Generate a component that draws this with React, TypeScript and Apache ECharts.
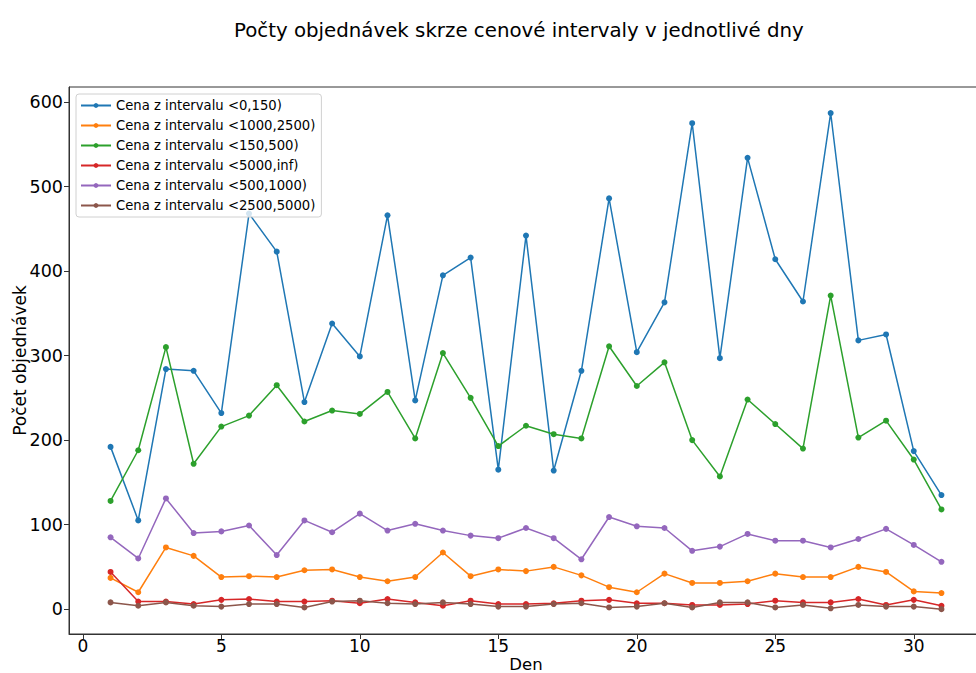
import React, { useEffect, useRef } from "react";
import * as echarts from "echarts";

const days = Array.from({ length: 31 }, (_, i) => i + 1);
const seriesNames = [
  "Cena z intervalu <0,150)",
  "Cena z intervalu <1000,2500)",
  "Cena z intervalu <150,500)",
  "Cena z intervalu <5000,inf)",
  "Cena z intervalu <500,1000)",
  "Cena z intervalu <2500,5000)",
];
const s0_150 = [192, 105, 284, 282, 232, 468, 423, 245, 338, 299, 466, 247, 395, 416, 165, 442, 164, 282, 486, 304, 363, 575, 297, 534, 414, 364, 587, 318, 325, 187, 135];
const s1000_2500 = [37, 20, 73, 63, 38, 39, 38, 46, 47, 38, 33, 38, 67, 39, 47, 45, 50, 40, 26, 20, 42, 31, 31, 33, 42, 38, 38, 50, 44, 21, 19];
const s150_500 = [128, 188, 310, 172, 216, 229, 265, 222, 235, 231, 257, 202, 303, 250, 193, 217, 207, 202, 311, 264, 292, 200, 157, 248, 219, 190, 371, 203, 223, 177, 118];
const s5000_inf = [44, 9, 9, 6, 11, 12, 9, 9, 10, 7, 12, 8, 4, 10, 6, 6, 7, 10, 11, 7, 7, 5, 5, 6, 10, 8, 8, 12, 5, 11, 4];
const s500_1000 = [85, 60, 131, 90, 92, 99, 64, 105, 91, 113, 93, 101, 93, 87, 84, 96, 84, 59, 109, 98, 96, 69, 74, 89, 81, 81, 73, 83, 95, 76, 56];
const s2500_5000 = [8, 4, 8, 4, 3, 6, 6, 2, 9, 10, 7, 6, 8, 6, 3, 3, 6, 7, 2, 3, 7, 2, 8, 8, 2, 5, 1, 5, 3, 3, 0];
const allValues = [s0_150, s1000_2500, s150_500, s5000_inf, s500_1000, s2500_5000];
const colors = ["#1f77b4", "#ff7f0e", "#2ca02c", "#d62728", "#9467bd", "#8c564b"];
const xTicks = [0, 5, 10, 15, 20, 25, 30];
const yTicks = [0, 100, 200, 300, 400, 500, 600];

const FONT = "DejaVu Sans";

export default function App() {
  const ref = useRef<HTMLDivElement>(null);
  useEffect(() => {
    document.body.style.margin = "0";
    const chart = echarts.init(ref.current!, null, { renderer: "svg" });
    const series = allValues.map((vals, i) => ({
      name: seriesNames[i],
      type: "line",
      data: vals.map((v, j) => [days[j], v]),
      symbol: "circle",
      symbolSize: 6,
      showSymbol: true,
      lineStyle: { width: 1.5, color: colors[i] },
      itemStyle: { color: colors[i] },
      z: 2 + i,
    }));
    chart.setOption({
      animation: false,
      textStyle: { fontFamily: FONT },
      title: {
        text: "Počty objednávek skrze cenové intervaly v jednotlivé dny",
        left: 229,
        top: 15,
        textStyle: { fontFamily: FONT, fontSize: 19.8, fontWeight: "normal", color: "#000" },
      },
      legend: {
        orient: "vertical",
        left: 76,
        top: 94,
        itemGap: 5,
        itemWidth: 30,
        itemHeight: 6,
        padding: [4, 6, 4, 4],
        backgroundColor: "rgba(255,255,255,0.8)",
        borderColor: "#d0d0d0",
        borderWidth: 1,
        borderRadius: 3,
        z: 20,
        textStyle: { fontFamily: FONT, fontSize: 13.2, color: "#000", lineHeight: 15 },
        data: seriesNames,
      },
      grid: {
        left: 69,
        top: 87,
        width: 914,
        height: 547,
        show: true,
        borderColor: "#333",
        borderWidth: 1,
        containLabel: false,
        outerBoundsMode: "none",
      },
      xAxis: {
        type: "value",
        min: -0.5,
        max: 32.5,
        name: "Den",
        nameLocation: "middle",
        nameGap: 22,
        nameMoveOverlap: false,
        nameTextStyle: { fontFamily: FONT, fontSize: 16.5, color: "#000", lineHeight: 17 },
        axisLine: { show: true, onZero: false, lineStyle: { color: "#333" } },
        axisTick: { show: true, length: 5, customValues: xTicks, lineStyle: { color: "#333" } },
        axisLabel: { customValues: xTicks, fontFamily: FONT, fontSize: 17, color: "#000", margin: 3 },
        splitLine: { show: false },
      },
      yAxis: {
        type: "value",
        min: -29.4,
        max: 617.8,
        name: "Počet objednávek",
        nameLocation: "middle",
        nameGap: 41,
        nameMoveOverlap: false,
        nameTextStyle: { fontFamily: FONT, fontSize: 17, color: "#000" },
        axisLine: { show: true, onZero: false, lineStyle: { color: "#333" } },
        axisTick: { show: true, length: 5, customValues: yTicks, lineStyle: { color: "#333" } },
        axisLabel: { customValues: yTicks, fontFamily: FONT, fontSize: 17.5, color: "#000", margin: 6 },
        splitLine: { show: false },
      },
      series,
    });
    return () => chart.dispose();
  }, []);
  return (
    <div
      ref={ref}
      style={{ position: "fixed", left: 0, top: 0, width: 976, height: 673, background: "#fff" }}
    />
  );
}
